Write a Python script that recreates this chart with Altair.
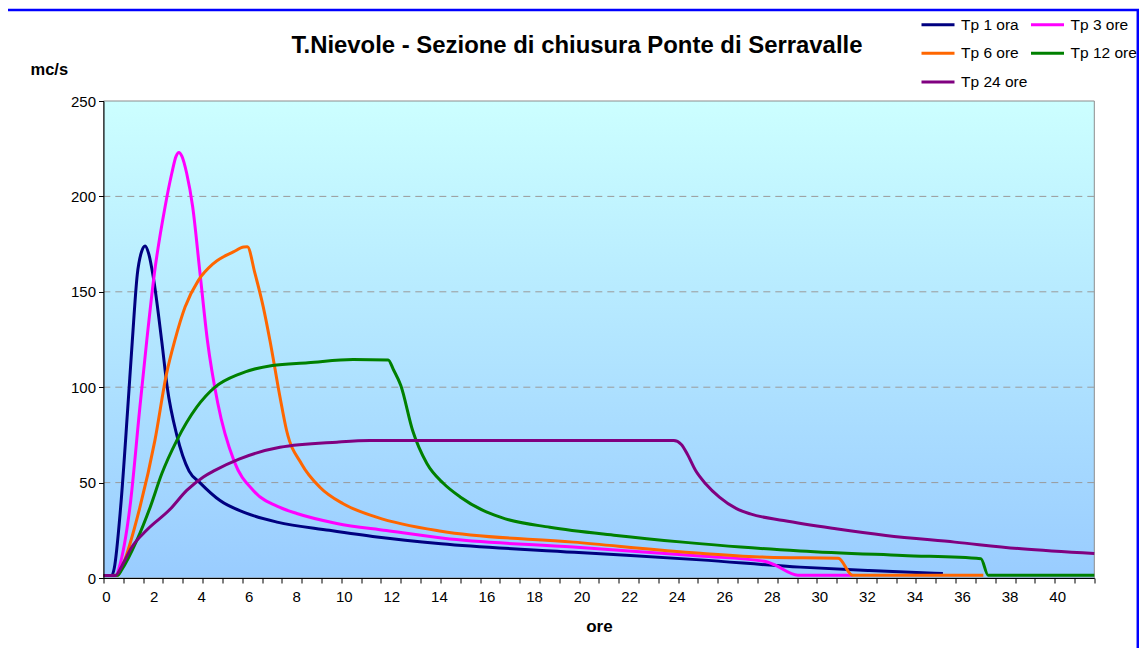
import altair as alt
import pandas as pd

FONT = "Liberation Sans, Arial, sans-serif"

chart_title = "T.Nievole - Sezione di chiusura Ponte di Serravalle"
y_title = "mc/s"
x_title = "ore"

series_names = ["Tp 1 ora", "Tp 3 ore", "Tp 6 ore", "Tp 12 ore", "Tp 24 ore"]
series_colors = ["#000080", "#FF00FF", "#FF6600", "#008000", "#800080"]

tp1_h = [0, 0.35, 0.45, 0.72, 1.02, 1.21, 1.42, 1.6, 1.75, 1.9, 2.09, 2.45, 2.68, 3.08, 3.6, 4.05,
         4.9, 6.0, 7.3, 9.5, 11.5, 14.2, 19.8, 25.1, 29.3, 32.2, 35.3]
tp1_q = [1.3, 1.3, 5, 37, 89, 124, 159, 171, 174, 170, 158, 124, 100, 75, 56, 50,
         40.6, 34, 29.3, 25, 21.5, 18, 13.5, 9.5, 5.7, 3.9, 2.3]

tp3_h = [0, 0.55, 0.65, 1.11, 1.53, 1.82, 2.14, 2.59, 2.87, 3.05, 3.17, 3.3, 3.5, 3.75, 4.06, 4.37,
         4.8, 5.5, 6.3, 7.42, 8.13, 9.81, 11.9, 14.3, 19.76, 25.1, 27.85, 28.2, 29.2, 31.5]
tp3_q = [1.3, 1.5, 5, 37, 89.5, 124.5, 159.6, 194.6, 212, 221, 223, 221, 212, 194.6, 159.6, 124.5,
         92, 61, 45.9, 37, 33.8, 28.6, 24.9, 20.8, 16.2, 11.5, 8.6, 7, 1.5, 1.5]

tp6_h = [0, 0.6, 0.75, 1.53, 2.16, 2.65, 3.0, 3.43, 3.99, 4.62, 5.46, 5.9, 6.05, 6.37, 6.72, 7.0,
         7.42, 7.7, 8.33, 9.1, 10.08, 11.48, 14.2, 19.76, 25.1, 27.9, 30.9, 31.5, 37.0]
tp6_q = [1.3, 1.5, 5, 37, 72, 107, 124.5, 142, 156, 164.8, 170.9, 173.5, 173.6, 159.6, 142, 124.5,
         95, 77.3, 59.8, 47.6, 38.9, 31.9, 24.5, 18.8, 13, 10.9, 10.4, 1.5, 1.5]

tp12_h = [0, 0.6, 0.75, 1.4, 1.96, 2.45, 3.08, 3.92, 4.69, 5.74, 7.1, 8.6, 10.5, 11.97, 12.2, 12.5,
          13.0, 13.6, 14.3, 15.0, 16.1, 16.9, 18.77, 21.57, 24.36, 26.8, 29.3, 33.6, 36.9, 37.2, 41.667]
tp12_q = [1.3, 1.5, 4, 19.7, 37, 54.6, 72, 89.5, 100, 107, 111.4, 112.8, 114.5, 114.3, 109, 101,
          77.3, 60, 49.5, 42.5, 34.6, 31, 26.6, 22.3, 18.8, 16.2, 14.2, 11.8, 10.1, 1.5, 1.5]

tp24_h = [0, 0.5, 0.8, 1.18, 1.81, 2.8, 3.5, 4.2, 4.62, 5.7, 7.42, 9.81, 11.2, 23.98, 24.3, 24.55,
          24.9, 25.33, 25.9, 26.6, 27.2, 28.6, 30.8, 32.9, 35.8, 38.6, 41.667]
tp24_q = [1.3, 1.3, 7, 16, 25, 36, 45.9, 53, 56, 62.3, 68.5, 71.2, 72, 72, 70, 65,
          56.3, 49.3, 42.4, 36.5, 33.6, 30.1, 25.8, 22.3, 18.8, 15.3, 12.8]

x_labels = list(range(0, 41, 2))
x_ticks = [round(k * 5 / 6, 4) for k in range(51)]
y_values = [0, 50, 100, 150, 200, 250]
grid_values = [50, 100, 150, 200]

rows = []
for name, hs, qs in zip(series_names,
                        [tp1_h, tp3_h, tp6_h, tp12_h, tp24_h],
                        [tp1_q, tp3_q, tp6_q, tp12_q, tp24_q]):
    for h, q in zip(hs, qs):
        rows.append({"serie": name, "h": h, "q": q})
df = pd.DataFrame(rows)

W = 990.8
H = 477
xscale = alt.Scale(domain=[0, 41.667], nice=False, zero=False)
yscale = alt.Scale(domain=[0, 250], nice=False)

one = pd.DataFrame({"k": [0]})

gradient = alt.LinearGradient(
    gradient="linear",
    stops=[alt.GradientStop(color="#CCFFFF", offset=0),
           alt.GradientStop(color="#99CCFF", offset=1)],
    x1=0, x2=0, y1=0, y2=1,
)

bg = alt.Chart(one).mark_rect(fill=gradient, stroke="#8C8C8C", strokeWidth=1).encode(
    x=alt.value(0), x2=alt.value(W), y=alt.value(0), y2=alt.value(H)
)

label_axis = alt.Axis(
    values=x_labels, format="d", ticks=False, grid=False, orient="bottom",
    domainColor="#000000", domainWidth=1, labelFontSize=15, labelColor="#000000",
    labelPadding=11, labelOffset=2.5, labelFlush=False, labelOverlap=False, labelFont=FONT,
    title=x_title, titleFontSize=17, titleFontWeight="bold", titleColor="#000000",
    titlePadding=14, titleFont=FONT, zindex=1,
)
tick_axis = alt.Axis(
    values=x_ticks, labels=False, ticks=True, tickSize=5, tickColor="#000000",
    domain=False, grid=False, title=None, orient="bottom", zindex=1,
)
y_axis = alt.Axis(
    values=y_values, grid=False, tickSize=5, tickColor="#000000", domainColor="#000000",
    labelFontSize=15, labelColor="#000000", labelPadding=3, labelFont=FONT,
    title=y_title, titleAngle=0, titleAlign="left", titleBaseline="alphabetic",
    titleX=-73.5, titleY=-27, titleFontSize=16.5, titleFontWeight="bold",
    titleColor="#000000", titleFont=FONT, zindex=1,
)

grid = alt.Chart(pd.DataFrame({"v": grid_values})).mark_rule(
    color="#9A9A9A", strokeDash=[7, 5], strokeWidth=1
).encode(y=alt.Y("v:Q", scale=yscale, axis=y_axis))

legend = alt.Legend(
    orient="none", legendX=816.5, legendY=-94.5, columns=2, direction="horizontal",
    symbolType="stroke", symbolSize=1089, symbolStrokeWidth=3, labelFontSize=15.5,
    labelFont=FONT, labelColor="#000000", labelOffset=5, rowPadding=1.8,
    columnPadding=-3.5, title=None, padding=0, labelLimit=200,
)

lines = alt.Chart(df).mark_line(strokeWidth=3, interpolate="monotone").encode(
    x=alt.X("h:Q", scale=xscale, axis=label_axis),
    y=alt.Y("q:Q", scale=yscale, axis=y_axis),
    color=alt.Color("serie:N", scale=alt.Scale(domain=series_names, range=series_colors),
                    legend=legend),
)

ticks = alt.Chart(pd.DataFrame({"t": x_ticks})).mark_point(opacity=0).encode(
    x=alt.X("t:Q", scale=xscale, axis=tick_axis)
)

title = alt.Chart(pd.DataFrame({"txt": [chart_title]})).mark_text(
    fontSize=23.9, fontWeight="bold", font=FONT, align="center", baseline="alphabetic",
    color="#000000"
).encode(text="txt:N", x=alt.value(473.5), y=alt.value(-48))

border = alt.Chart(one).mark_rect(fillOpacity=0, stroke="#0000FF", strokeWidth=2.5).encode(
    x=alt.value(-97.5), x2=alt.value(1034.3), y=alt.value(-91), y2=alt.value(H + 120)
)

chart = alt.layer(bg, grid, lines, ticks, title, border).resolve_axis(
    x="independent"
).properties(
    width=W, height=H,
    autosize=alt.AutoSizeParams(type="none"),
    padding={"left": 95.5, "top": 93, "right": 44.7, "bottom": 70},
    background="#FFFFFF",
).configure(font=FONT).configure_view(stroke=None)

chart.save("out.html", embed_options={"renderer": "svg", "actions": False})
